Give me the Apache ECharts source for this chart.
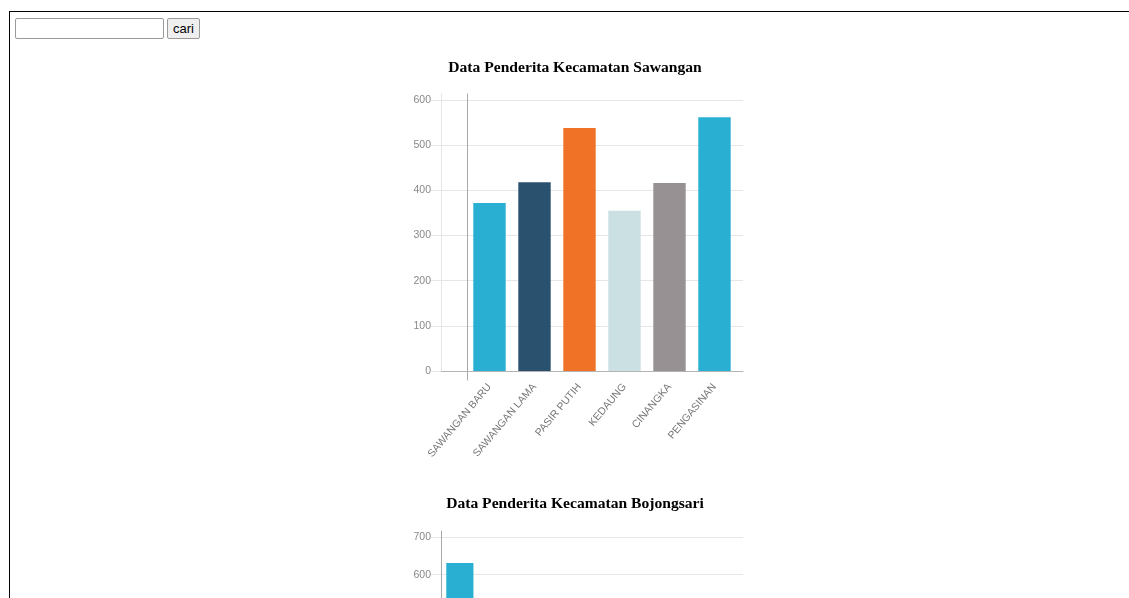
<!DOCTYPE html>
<html>
<head>
<meta charset="utf-8">
<script src="https://cdn.jsdelivr.net/npm/echarts@6/dist/echarts.min.js"></script>
<style>
  html, body { margin: 0; padding: 0; background: #fff; overflow: hidden; width: 1129px; height: 598px; }
  #frame { position: absolute; left: 9px; top: 11px; width: 1300px; height: 1000px; border-top: 1px solid #000; border-left: 1px solid #000; }
  #search { position: absolute; left: 15px; top: 18px; z-index: 5; font: 13px Arial, "Liberation Sans", sans-serif; }
  #search input { box-sizing: border-box; width: 149px; height: 21px; border: 1px solid #9a9a9a; border-radius: 2px; margin: 0; padding: 1px 2px; vertical-align: top; }
  #search button { box-sizing: border-box; height: 21px; margin: 0 0 0 3px; padding: 0 5px; border: 1px solid #9a9a9a; border-radius: 2px; background: #efefef; font: 13px Arial, "Liberation Sans", sans-serif; color: #000; vertical-align: top; }
  #chart { position: absolute; left: 0; top: 0; width: 1129px; height: 900px; z-index: 2; }
</style>
</head>
<body>
<div id="frame"></div>
<div id="search"><input type="text"><button>cari</button></div>
<div id="chart"></div>
<script>
// ---- data ----
const title1 = 'Data Penderita Kecamatan Sawangan';
const categories1 = ['SAWANGAN BARU', 'SAWANGAN LAMA', 'PASIR PUTIH', 'KEDAUNG', 'CINANGKA', 'PENGASINAN'];
const values1 = [372, 418, 538, 355, 416, 562];
const yMax1 = 600;

const title2 = 'Data Penderita Kecamatan Bojongsari';
const categories2 = ['BOJONGSARI', 'BOJONGSARI BARU', 'SERUA', 'PONDOK PETIR', 'CURUG', 'DUREN MEKAR', 'DUREN SERIBU'];
const values2 = [631, 420, 380, 470, 350, 400, 440];
const yMax2 = 700;

const palette = ['#29afd2', '#2a526f', '#ef7226', '#cbe0e3', '#989193'];
const tickStep = 100;

// ---- chart ----
const labelFont = 'Arial, "Liberation Sans", sans-serif';
const lightLine = '#e6e6e6';
const darkLine = '#b4b4b4';

function colored(vals) {
  return vals.map((v, i) => ({ value: v, itemStyle: { color: palette[i % palette.length] } }));
}

const grids = [];
const xAxes = [];
const yAxes = [];
const series = [];

function addFrame(left, top, width, height, max, axisLineColor) {
  const gi = grids.length;
  grids.push({ left: left, top: top, width: width, height: height });
  xAxes.push({ gridIndex: gi, type: 'value', min: 0, max: 1, axisLine: { show: true, onZero: false, lineStyle: { color: axisLineColor } }, axisTick: { show: false }, axisLabel: { show: false }, splitLine: { show: false } });
  yAxes.push({ gridIndex: gi, type: 'value', min: 0, max: max, interval: tickStep,
    axisLine: { show: false },
    axisTick: { show: true, length: 10, lineStyle: { color: lightLine } },
    axisLabel: { color: '#888', fontSize: 10.5, fontFamily: labelFont, margin: 10 },
    splitLine: { show: true, lineStyle: { color: lightLine } } });
}

function addLine(left, top, height, color) {
  const gi = grids.length;
  grids.push({ left: left, top: top, width: 1, height: height });
  xAxes.push({ gridIndex: gi, type: 'value', show: false, min: 0, max: 1 });
  yAxes.push({ gridIndex: gi, type: 'value', min: 0, max: 1,
    axisLine: { show: true, onZero: false, lineStyle: { color: color } },
    axisTick: { show: false }, axisLabel: { show: false }, splitLine: { show: false } });
}

function addBars(left, top, width, height, max, cats, vals) {
  const gi = grids.length;
  grids.push({ left: left, top: top, width: width, height: height });
  xAxes.push({ gridIndex: gi, type: 'category', data: cats,
    axisLine: { show: false }, axisTick: { show: false },
    axisLabel: { rotate: 50, interval: 0, color: '#777', fontSize: 10.5, fontFamily: labelFont, margin: 14 } });
  yAxes.push({ gridIndex: gi, type: 'value', min: 0, max: max, show: false, splitLine: { show: false } });
  series.push({ type: 'bar', xAxisIndex: gi, yAxisIndex: gi, data: colored(vals), barWidth: '72%', animation: false });
}

// chart 1
addFrame(441, 100, 302, 271, yMax1, darkLine);
addLine(441, 94, 277, lightLine);
addLine(467, 94, 286, '#a8a8a8');
addBars(467, 100, 270, 271, yMax1, categories1, values1);

// chart 2
addFrame(441, 537, 302, 264, yMax2, darkLine);
addLine(441, 531, 270, '#a8a8a8');
addBars(441, 537, 264, 264, yMax2, categories2, values2);

const titleStyle = { fontFamily: '"Liberation Serif", "Times New Roman", serif', fontWeight: 'bold', fontSize: 15.6, color: '#000' };
const chart = echarts.init(document.getElementById('chart'), null, { renderer: 'canvas' });
chart.setOption({
  animation: false,
  title: [
    { text: title1, left: 570, top: 55, textAlign: 'center', textStyle: titleStyle },
    { text: title2, left: 570, top: 491, textAlign: 'center', textStyle: titleStyle }
  ],
  grid: grids,
  xAxis: xAxes,
  yAxis: yAxes,
  series: series
});
</script>
</body>
</html>
